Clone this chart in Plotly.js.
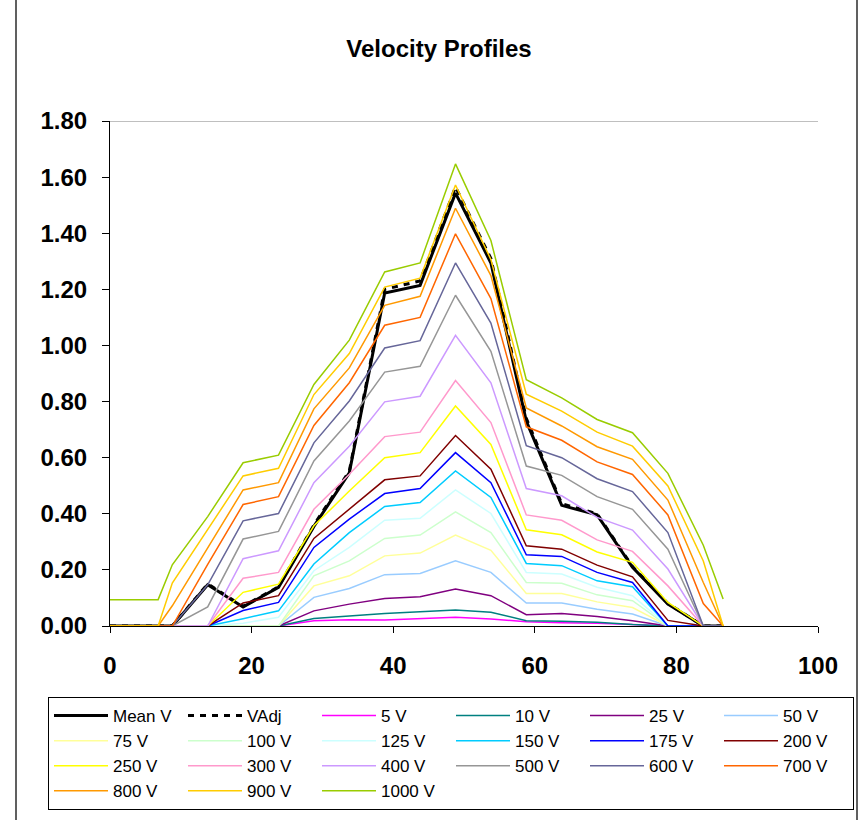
<!DOCTYPE html>
<html><head><meta charset="utf-8">
<script src="https://cdn.plot.ly/plotly-3.0.1.min.js"></script>
<style>html,body{margin:0;padding:0;background:#fff}#chart{width:868px;height:820px}</style>
</head><body><div id="chart"></div>
<script>
const distance = [0, 6.8, 8.8, 13.8, 18.8, 23.8, 28.8, 33.8, 38.8, 43.8, 48.8, 53.8, 58.8, 63.8, 68.8, 73.8, 78.8, 83.8, 86.6];

const meanV = [0, 0, 0, 0.147, 0.068, 0.138, 0.355, 0.546, 1.187, 1.214, 1.543, 1.294, 0.730, 0.430, 0.396, 0.209, 0.078, 0, 0];
const vAdj  = [0, 0, 0, 0.150, 0.070, 0.140, 0.360, 0.552, 1.200, 1.230, 1.565, 1.310, 0.740, 0.436, 0.400, 0.212, 0.080, 0, 0];
const v5    = [0, 0, 0, 0, 0, 0, 0.019, 0.022, 0.021, 0.027, 0.031, 0.025, 0.015, 0.012, 0.010, 0.005, 0, 0, 0];
const v10   = [0, 0, 0, 0, 0, 0, 0.027, 0.037, 0.045, 0.051, 0.057, 0.049, 0.019, 0.017, 0.013, 0.005, 0, 0, 0];
const v25   = [0, 0, 0, 0, 0, 0, 0.054, 0.078, 0.098, 0.104, 0.132, 0.108, 0.040, 0.045, 0.034, 0.019, 0, 0, 0];
const v50   = [0, 0, 0, 0, 0, 0, 0.102, 0.134, 0.183, 0.187, 0.232, 0.191, 0.082, 0.082, 0.060, 0.043, 0, 0, 0];
const v75   = [0, 0, 0, 0, 0, 0, 0.143, 0.179, 0.250, 0.260, 0.324, 0.270, 0.116, 0.116, 0.086, 0.066, 0, 0, 0];
const v100  = [0, 0, 0, 0, 0, 0, 0.179, 0.232, 0.312, 0.324, 0.407, 0.333, 0.155, 0.152, 0.111, 0.090, 0, 0, 0];
const v125  = [0, 0, 0, 0, 0.010, 0.031, 0.197, 0.280, 0.377, 0.384, 0.485, 0.401, 0.191, 0.185, 0.138, 0.108, 0, 0, 0];
const v150  = [0, 0, 0, 0, 0.026, 0.054, 0.221, 0.333, 0.426, 0.440, 0.553, 0.458, 0.223, 0.215, 0.161, 0.140, 0, 0, 0];
const v175  = [0, 0, 0, 0, 0.055, 0.084, 0.280, 0.381, 0.472, 0.490, 0.618, 0.511, 0.254, 0.248, 0.191, 0.155, 0, 0, 0];
const v200  = [0, 0, 0, 0, 0.082, 0.108, 0.312, 0.416, 0.521, 0.535, 0.679, 0.559, 0.286, 0.274, 0.217, 0.175, 0.020, 0, 0];
const v250  = [0, 0, 0, 0, 0.120, 0.149, 0.357, 0.481, 0.600, 0.618, 0.784, 0.647, 0.343, 0.325, 0.264, 0.227, 0.084, 0, 0];
const v300  = [0, 0, 0, 0, 0.170, 0.191, 0.416, 0.541, 0.675, 0.691, 0.875, 0.725, 0.396, 0.377, 0.307, 0.266, 0.143, 0, 0];
const v400  = [0, 0, 0, 0, 0.240, 0.268, 0.511, 0.641, 0.799, 0.819, 1.036, 0.867, 0.490, 0.464, 0.387, 0.342, 0.203, 0, 0];
const v500  = [0, 0, 0, 0.068, 0.310, 0.337, 0.588, 0.731, 0.905, 0.926, 1.179, 0.979, 0.570, 0.537, 0.461, 0.416, 0.274, 0, 0];
const v600  = [0, 0, 0, 0.147, 0.375, 0.401, 0.653, 0.802, 0.991, 1.017, 1.294, 1.080, 0.643, 0.600, 0.525, 0.479, 0.333, 0, 0];
const v700  = [0, 0, 0, 0.220, 0.433, 0.461, 0.715, 0.867, 1.072, 1.100, 1.398, 1.167, 0.710, 0.662, 0.585, 0.540, 0.396, 0.080, 0];
const v800  = [0, 0, 0.072, 0.280, 0.485, 0.511, 0.774, 0.920, 1.143, 1.175, 1.489, 1.249, 0.777, 0.713, 0.639, 0.594, 0.449, 0.155, 0];
const v900  = [0, 0, 0.153, 0.345, 0.535, 0.562, 0.825, 0.971, 1.208, 1.240, 1.572, 1.306, 0.826, 0.766, 0.691, 0.641, 0.499, 0.232, 0];
const v1000 = [0.094, 0.094, 0.218, 0.390, 0.582, 0.609, 0.861, 1.019, 1.262, 1.294, 1.647, 1.374, 0.878, 0.813, 0.736, 0.689, 0.544, 0.288, 0.096];

const seriesNames = ["Mean V", "VAdj", "5 V", "10 V", "25 V", "50 V", "75 V", "100 V", "125 V", "150 V", "175 V", "200 V",
  "250 V", "300 V", "400 V", "500 V", "600 V", "700 V", "800 V", "900 V", "1000 V"];
const seriesValues = [meanV, vAdj, v5, v10, v25, v50, v75, v100, v125, v150, v175, v200,
  v250, v300, v400, v500, v600, v700, v800, v900, v1000];
const seriesColors = ["#000000", "#000000", "#FF00FF", "#008080", "#800080", "#99CCFF", "#FFFF99", "#CCFFCC", "#CCFFFF",
  "#00CCFF", "#0000FF", "#800000", "#FFFF00", "#FF99CC", "#CC99FF", "#969696", "#666699", "#FF6600", "#FF9900", "#FFCC00", "#99CC00"];
const xTicks = [0, 20, 40, 60, 80, 100];

const W = 868, H = 820;
const mL = 110, mR = 50, mT = 121, mB = 194;
const pw = W - mL - mR, ph = H - mT - mB;
const px2x = p => (p - mL) / pw;
const px2y = p => (H - mB - p) / ph;

const traces = seriesNames.map((name, i) => {
  const isMean = i === 0, isAdj = i === 1;
  return {
    type: 'scatter', mode: 'lines', name: name,
    x: distance, y: seriesValues[i],
    line: {color: seriesColors[i], width: (isMean || isAdj) ? 3 : 1.5, dash: isAdj ? '6px,6px' : 'solid'},
    cliponaxis: false, hoverinfo: 'skip'
  };
});

const fontFam = 'Liberation Sans, Arial, sans-serif';
const layout = {
  width: W, height: H,
  margin: {l: mL, r: mR, t: mT, b: mB, pad: 0, autoexpand: false},
  paper_bgcolor: '#ffffff', plot_bgcolor: '#ffffff',
  font: {family: fontFam, color: '#000'},
  title: {text: 'Velocity Profiles', x: 439 / W, xanchor: 'center', y: 1 - 49 / H, yanchor: 'middle',
    font: {family: fontFam, size: 24, weight: 'bold', color: '#000'}},
  xaxis: {range: [0, 100], tickvals: xTicks, ticktext: xTicks.map(String), showgrid: false, zeroline: false,
    showline: true, linecolor: '#000', linewidth: 1, ticks: 'outside', ticklen: 6, tickcolor: '#000',
    ticklabelstandoff: 12, tickfont: {family: fontFam, size: 24, weight: 'bold', color: '#000'}, fixedrange: true},
  yaxis: {range: [0, 1.8], dtick: 0.2, tick0: 0, tickformat: '.2f', showgrid: false, zeroline: false,
    showline: true, linecolor: '#000', linewidth: 1, ticks: 'outside', ticklen: 7, tickcolor: '#000',
    ticklabelstandoff: 10, tickfont: {family: fontFam, size: 24, weight: 'bold', color: '#000'}, fixedrange: true},
  showlegend: true,
  legend: {orientation: 'h', x: px2x(48), xanchor: 'left', y: px2y(697), yanchor: 'top',
    entrywidth: 65, entrywidthmode: 'pixels', itemwidth: 54, traceorder: 'normal',
    bordercolor: '#000', borderwidth: 1, bgcolor: '#fff',
    font: {family: fontFam, size: 17, color: '#000'}},
  shapes: [
    {type: 'line', xref: 'paper', yref: 'y', x0: 0, x1: 1, y0: 1.8, y1: 1.8, line: {color: '#808080', width: 1}},
    {type: 'line', xref: 'paper', yref: 'paper', x0: px2x(16), x1: px2x(16), y0: px2y(0), y1: px2y(H), line: {color: '#606060', width: 2}},
    {type: 'line', xref: 'paper', yref: 'paper', x0: px2x(857), x1: px2x(857), y0: px2y(0), y1: px2y(H), line: {color: '#606060', width: 2}}
  ]
};

Plotly.newPlot('chart', traces, layout, {displayModeBar: false, staticPlot: true});
</script></body></html>
